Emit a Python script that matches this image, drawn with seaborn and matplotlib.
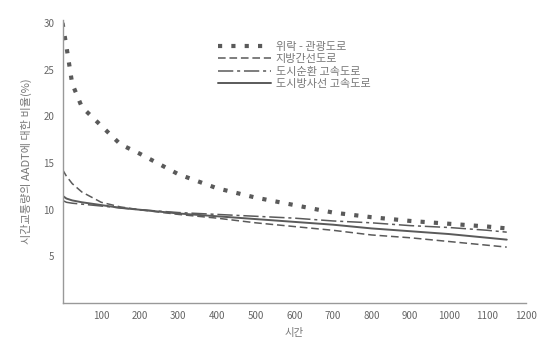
import matplotlib
matplotlib.use("Agg")
import matplotlib.pyplot as plt
import seaborn as sns
import pandas as pd

# hours of the year ranked by volume
hours = [0, 10, 25, 50, 100, 150, 200, 300, 400, 500, 600, 700, 800, 900, 1000, 1100, 1150]

# hourly volume as a share of AADT (%)
recreational = [30.0, 27.5, 23.5, 21.0, 19.0, 17.0, 16.0, 13.8, 12.3, 11.3, 10.5, 9.7, 9.2, 8.8, 8.5, 8.2, 8.0]
rural_arterial = [14.3, 13.6, 12.8, 11.9, 10.8, 10.3, 10.0, 9.5, 9.1, 8.6, 8.2, 7.8, 7.3, 7.0, 6.6, 6.2, 6.0]
urban_circ = [11.0, 10.8, 10.7, 10.6, 10.4, 10.2, 10.0, 9.7, 9.5, 9.3, 9.1, 8.8, 8.6, 8.3, 8.1, 7.8, 7.6]
urban_radial = [11.5, 11.2, 11.0, 10.8, 10.5, 10.2, 10.0, 9.6, 9.3, 9.0, 8.7, 8.4, 8.0, 7.7, 7.4, 7.0, 6.8]

labels = ["위락 - 관광도로", "지방간선도로", "도시순환 고속도로", "도시방사선 고속도로"]
xticks = [100, 200, 300, 400, 500, 600, 700, 800, 900, 1000, 1100, 1200]
yticks = [5, 10, 15, 20, 25, 30]

sns.set_theme(style="white")
plt.rcParams["font.family"] = ["Noto Sans CJK KR", "DejaVu Sans"]

ink = "#5a5a5a"
fig = plt.figure(figsize=(5.39, 3.41), dpi=100)
ax = fig.add_axes([0.116, 0.111, 0.86, 0.83])

series = [recreational, rural_arterial, urban_circ, urban_radial]
styles = [(0, (1.0, 2.2)), (0, (5, 2.5)), (0, (10, 2.5, 2, 2.5)), "-"]
widths = [3.0, 1.1, 1.1, 1.4]
for vals, lab, ls, lw in zip(series, labels, styles, widths):
    df = pd.DataFrame({"h": hours, "v": vals})
    sns.lineplot(data=df, x="h", y="v", ax=ax, color=ink, linestyle=ls,
                 linewidth=lw, label=lab)

ax.set_xlim(0, 1200)
ax.set_ylim(0, 30.3)
ax.set_xticks(xticks)
ax.set_yticks(yticks)
ax.tick_params(axis="both", direction="in", length=3, color="#999999",
               labelsize=7, labelcolor="#666666", pad=6)
for s in ["top", "right"]:
    ax.spines[s].set_visible(False)
for s in ["left", "bottom"]:
    ax.spines[s].set_color("#999999")
    ax.spines[s].set_linewidth(1.0)

ax.set_xlabel("시간", fontsize=7.5, color="#777777", labelpad=5)
ax.set_ylabel("시간교통량의 AADT에 대한 비율(%)", fontsize=8, color="#777777", labelpad=8)

leg = ax.legend(loc="upper center", bbox_to_anchor=(0.50, 0.95), frameon=False,
                fontsize=8, handlelength=4.8, labelspacing=0.2, handletextpad=0.4,
                borderpad=0.2)
for t in leg.get_texts():
    t.set_color("#777777")

fig.savefig("out.png", dpi=100)
